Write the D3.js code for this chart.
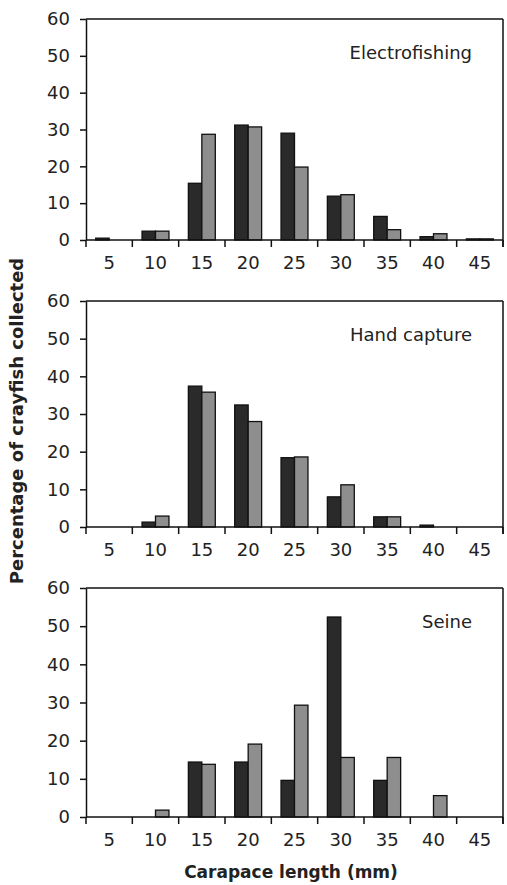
<!DOCTYPE html>
<html lang="en">

<head>
    <meta charset="UTF-8">
    <title>Carapace length by capture method</title>
    <script src="https://cdn.jsdelivr.net/npm/d3@7"></script>
    <style>
        body {
            margin: 0;
            padding: 0;
            overflow: hidden;
            background: #fff;
        }

        svg {
            display: block;
        }

        text {
            font-family: "DejaVu Sans", Arial, sans-serif;
            fill: #222;
        }
    </style>
</head>

<body>
    <svg id="chart" width="507" height="885"></svg>

    <script>
        // data
        var lengths = ["5", "10", "15", "20", "25", "30", "35", "40", "45"];
        var yTicks = [0, 10, 20, 30, 40, 50, 60];
        var methods = ["Electrofishing", "Hand capture", "Seine"];

        var electroDark = [0.5, 2.4, 15.4, 31.2, 29.0, 11.9, 6.4, 0.9, 0.3];
        var electroGrey = [0, 2.4, 28.7, 30.7, 19.8, 12.3, 2.8, 1.7, 0.3];

        var handDark = [0, 1.3, 37.4, 32.4, 18.4, 8.0, 2.7, 0.5, 0];
        var handGrey = [0, 2.9, 35.8, 28.0, 18.6, 11.2, 2.7, 0, 0];

        var seineDark = [0, 0, 14.4, 14.4, 9.6, 52.4, 9.6, 0, 0];
        var seineGrey = [0, 1.8, 13.8, 19.1, 29.3, 15.6, 15.6, 5.6, 0];

        var series = [
            [electroDark, electroGrey],
            [handDark, handGrey],
            [seineDark, seineGrey]
        ];

        // panel layout (pixels)
        var left = 86, right = 503;
        var panels = [
            { top: 19, bottom: 240 },
            { top: 301, bottom: 527 },
            { top: 588, bottom: 817 }
        ];
        var fills = ["#2a2a2a", "#8e8e8e"];

        var svg = d3.select("#chart");

        var x = d3.scaleBand().domain(lengths).range([left, right]).padding(0);
        var xSub = d3.scaleBand().domain([0, 1]).range([0, x.bandwidth()]).paddingInner(0).paddingOuter(0.72);

        panels.forEach(function (p, i) {
            var y = d3.scaleLinear().domain([0, 60]).range([p.bottom, p.top]);
            var g = svg.append("g");

            // frame: top and right borders
            g.append("line")
                .attr("x1", left).attr("x2", right)
                .attr("y1", p.top).attr("y2", p.top)
                .attr("stroke", "#111").attr("stroke-width", 1.5);
            g.append("line")
                .attr("x1", right).attr("x2", right)
                .attr("y1", p.top).attr("y2", p.bottom + 7)
                .attr("stroke", "#111").attr("stroke-width", 1.5);

            // bars
            series[i].forEach(function (vals, s) {
                g.selectAll(null)
                    .data(vals.map(function (v, k) { return { cat: lengths[k], v: v }; }).filter(function (d) { return d.v > 0; }))
                    .enter().append("rect")
                    .attr("x", function (d) { return x(d.cat) + xSub(s); })
                    .attr("width", xSub.bandwidth())
                    .attr("y", function (d) { return y(d.v); })
                    .attr("height", function (d) { return y(0) - y(d.v); })
                    .attr("fill", fills[s])
                    .attr("stroke", "#111")
                    .attr("stroke-width", 1.3);
            });

            // y axis
            var yAxis = g.append("g")
                .attr("transform", "translate(" + left + ",0)")
                .call(d3.axisLeft(y).tickValues(yTicks).tickSize(6).tickSizeOuter(0).tickPadding(10));
            yAxis.select(".domain").attr("stroke", "#111").attr("stroke-width", 1.5);
            yAxis.selectAll(".tick line").attr("stroke", "#111").attr("stroke-width", 1.5);
            yAxis.selectAll(".tick text")
                .attr("font-size", 18)
                .attr("font-family", "'DejaVu Sans', Arial, sans-serif")
                .attr("fill", "#222");

            // x axis line and boundary ticks
            g.append("line")
                .attr("x1", left).attr("x2", right)
                .attr("y1", p.bottom).attr("y2", p.bottom)
                .attr("stroke", "#111").attr("stroke-width", 1.5);
            var bounds = lengths.map(function (c) { return x(c); }).concat([right]);
            g.selectAll(null)
                .data(bounds)
                .enter().append("line")
                .attr("x1", function (d) { return d; }).attr("x2", function (d) { return d; })
                .attr("y1", p.bottom).attr("y2", p.bottom + 7)
                .attr("stroke", "#111").attr("stroke-width", 1.5);
            g.selectAll(null)
                .data(lengths)
                .enter().append("text")
                .attr("x", function (d) { return x(d) + x.bandwidth() / 2; })
                .attr("y", p.bottom + 29)
                .attr("text-anchor", "middle")
                .attr("font-size", 18)
                .text(function (d) { return d; });

            // panel label
            g.append("text")
                .attr("x", 472)
                .attr("y", p.top + 40)
                .attr("text-anchor", "end")
                .attr("font-size", 18)
                .text(methods[i]);
        });

        // axis titles
        svg.append("text")
            .attr("x", 291)
            .attr("y", 878)
            .attr("text-anchor", "middle")
            .attr("font-size", 17)
            .attr("font-weight", "bold")
            .text("Carapace length (mm)");

        svg.append("text")
            .attr("transform", "translate(23,421) rotate(-90)")
            .attr("text-anchor", "middle")
            .attr("font-size", 18)
            .attr("font-weight", "bold")
            .text("Percentage of crayfish collected");
    </script>
</body>

</html>
